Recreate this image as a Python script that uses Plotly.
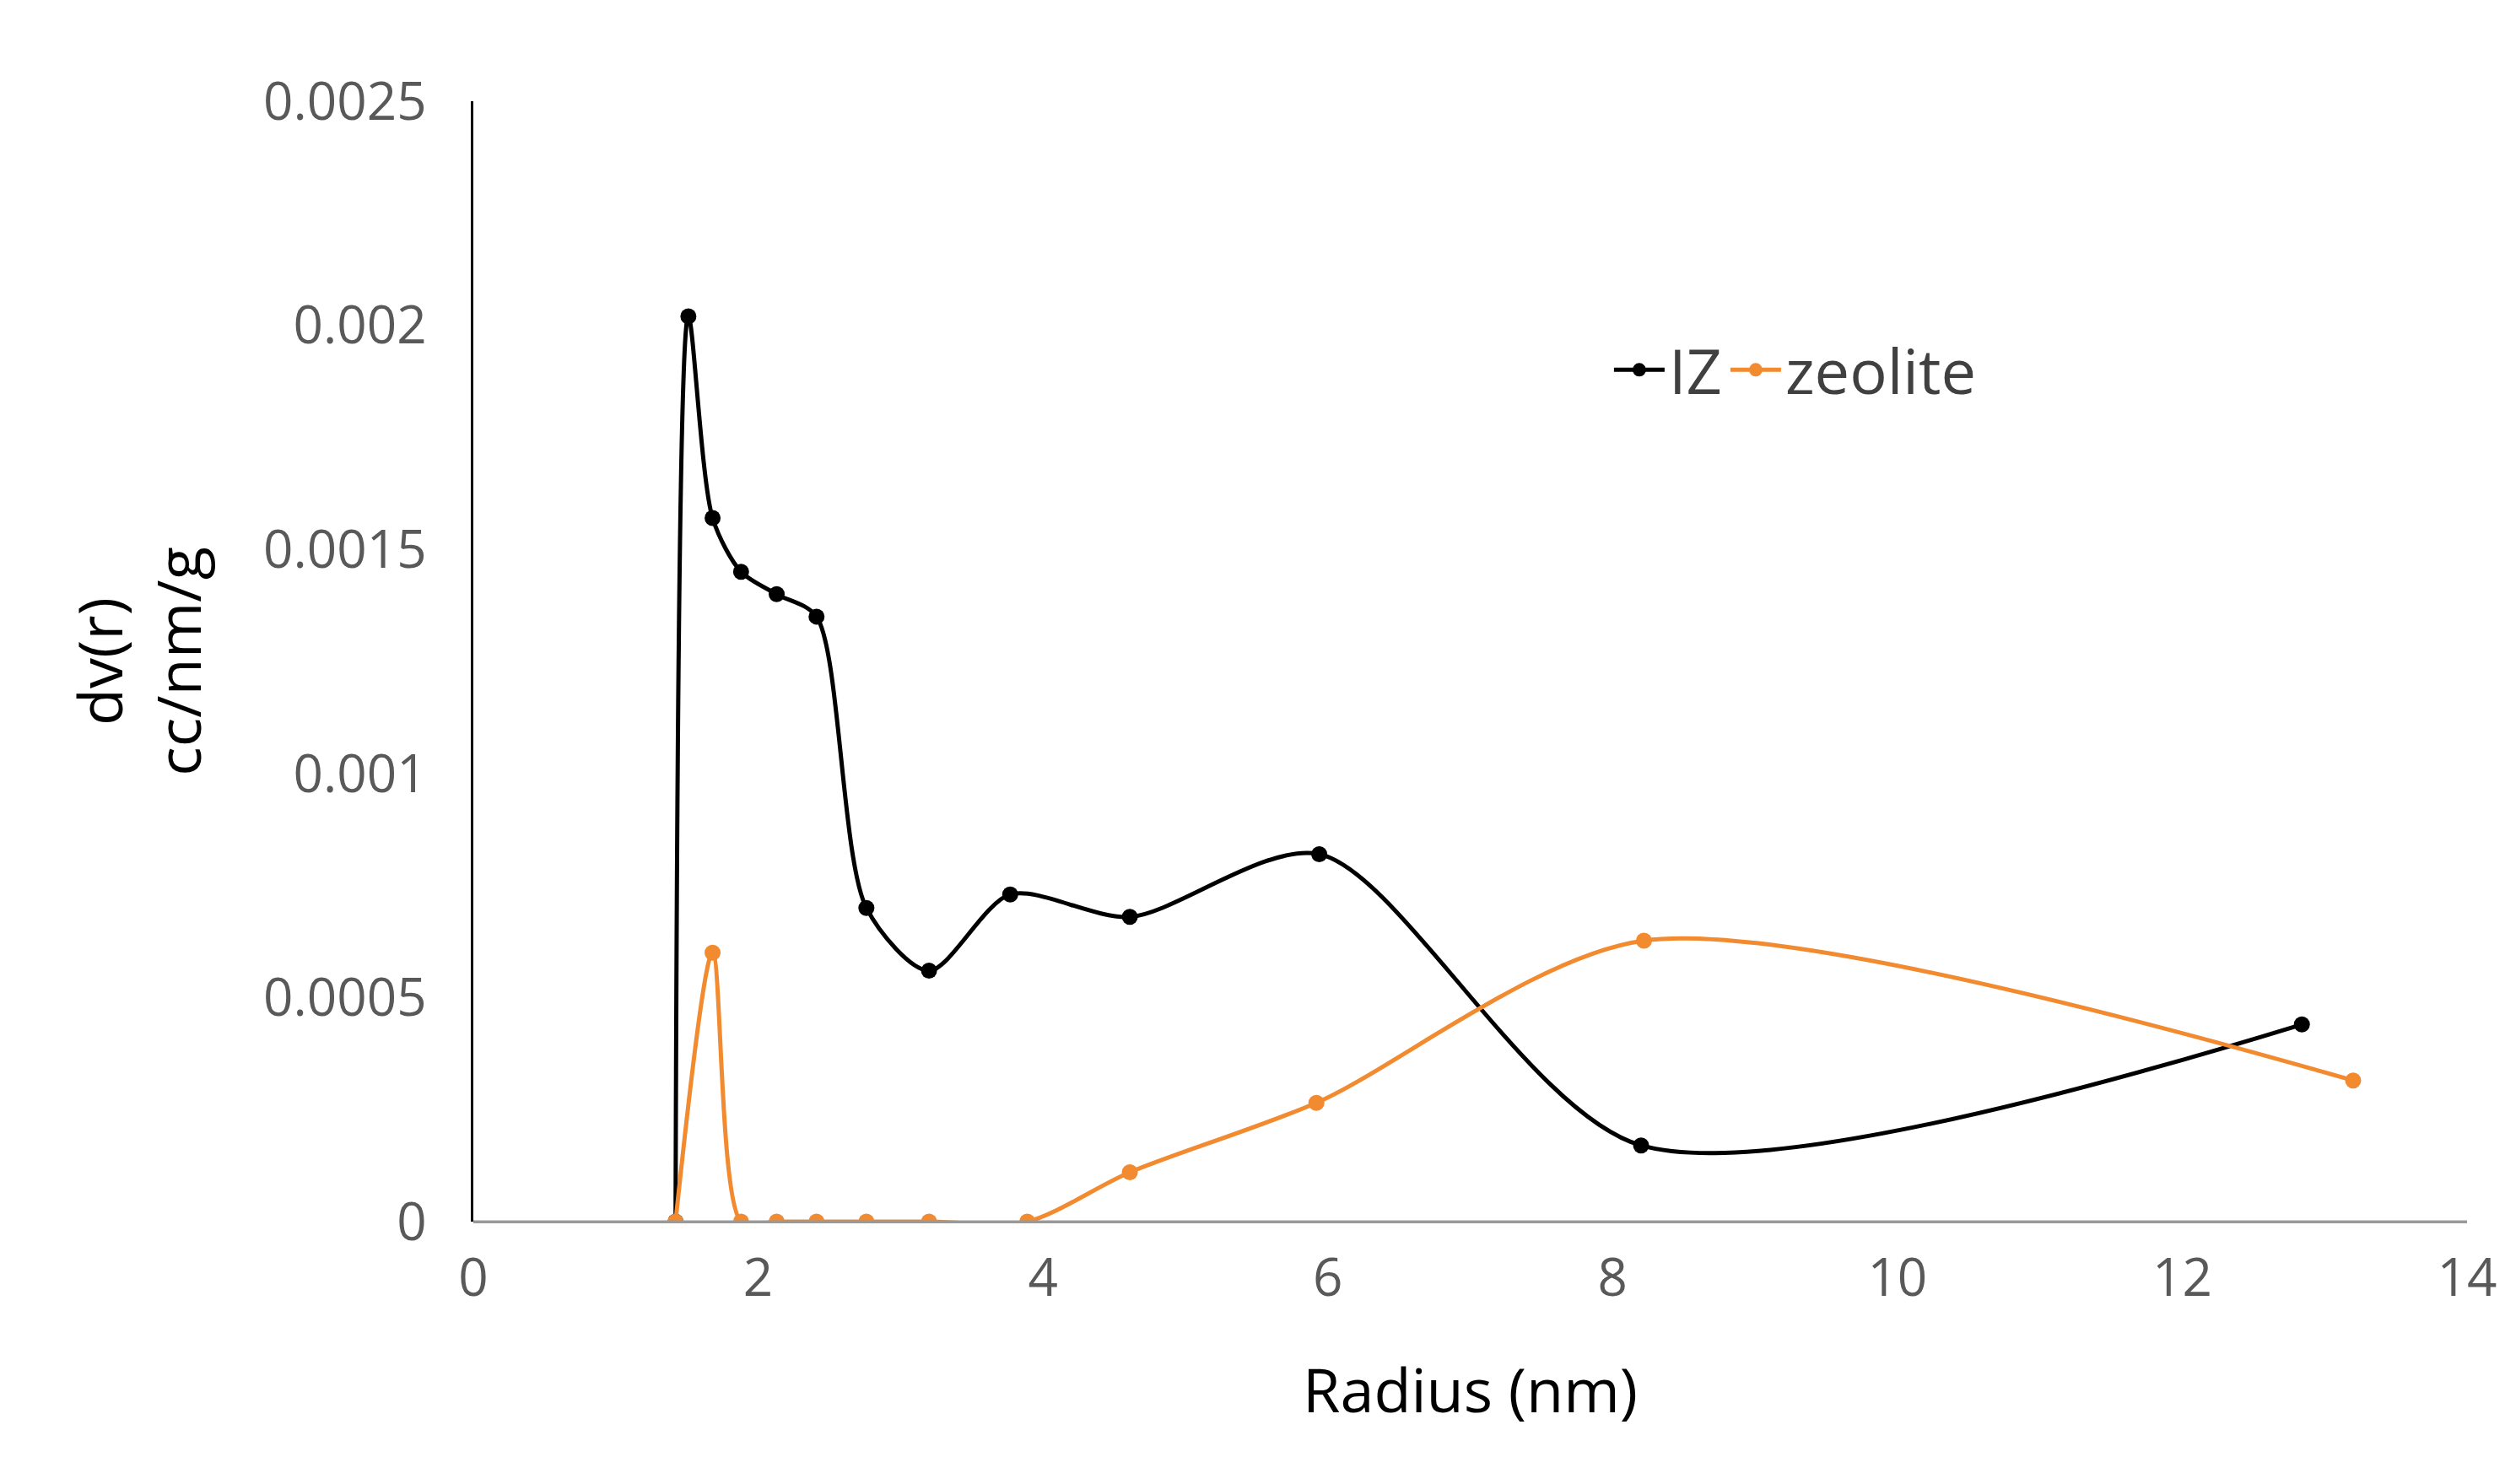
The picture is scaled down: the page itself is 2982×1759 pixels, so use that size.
import plotly.graph_objects as go

iz_x = [1.42, 1.51, 1.68, 1.88, 2.13, 2.41, 2.76, 3.2, 3.77, 4.61, 5.94, 8.2, 12.84]
iz_y = [0, 0.00202, 0.00157, 0.00145, 0.0014, 0.00135, 0.0007, 0.00056, 0.00073, 0.00068, 0.00082, 0.00017, 0.00044]
ze_x = [1.42, 1.68, 1.88, 2.13, 2.41, 2.76, 3.2, 3.89, 4.61, 5.92, 8.22, 13.2]
ze_y = [0, 0.0006, 0, 0, 0, 0, 0, 0, 0.00011, 0.000265, 0.000627, 0.000315]

fig = go.Figure()
fig.add_trace(go.Scatter(x=iz_x, y=iz_y, name="IZ", mode="lines+markers",
                         line=dict(color="black", width=5, shape="spline", smoothing=0.8),
                         marker=dict(size=19, color="black")))
fig.add_trace(go.Scatter(x=ze_x, y=ze_y, name="zeolite", mode="lines+markers",
                         line=dict(color="#F28A30", width=5, shape="spline", smoothing=0.8),
                         marker=dict(size=19, color="#F28A30")))
fig.update_layout(
    width=2982, height=1759, paper_bgcolor="white", plot_bgcolor="white",
    margin=dict(l=553, r=66, t=112, b=319),
    font=dict(family="Open Sans", size=62, color="#595959"),
    legend=dict(x=0.57, y=0.76, xanchor="left", yanchor="middle", orientation="h",
                itemwidth=60, font=dict(size=74, color="#404040"), bgcolor="rgba(0,0,0,0)"),
    xaxis=dict(range=[0, 14], dtick=2, showgrid=False, zeroline=False, showline=False,
               ticks="", ticklabelstandoff=25,
               title=dict(text="Radius (nm)", font=dict(size=72, color="black"), standoff=70)),
    yaxis=dict(range=[0, 0.0025], dtick=0.0005, showgrid=False, zeroline=True,
               zerolinecolor="#999999", zerolinewidth=3, showline=True, linecolor="black",
               linewidth=3, ticks="", tickformat="~g", ticklabelstandoff=40,
               title=dict(text="dv(r)<br>cc/nm/g", font=dict(size=72, color="black"), standoff=50)),
)
fig.add_shape(type="line", xref="paper", yref="y", x0=0, x1=1, y0=0, y1=0,
              line=dict(color="#999999", width=3))
fig.write_html("out.html")
